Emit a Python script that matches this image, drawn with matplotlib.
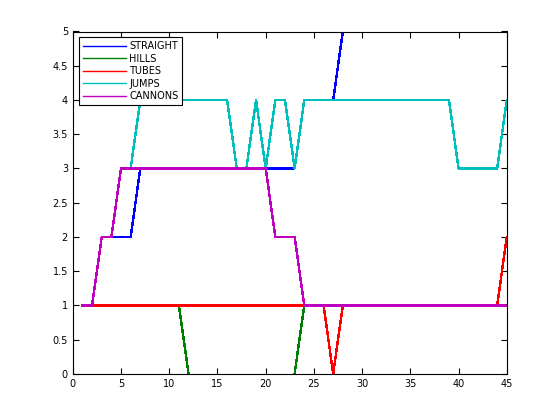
import matplotlib
matplotlib.use("Agg")
import matplotlib.pyplot as plt
import numpy as np

x = list(range(1, 46))
straight = [1,1,2,2,2,2] + [3]*17 + [4]*4 + [5] + [6]*17
hills = [1]*11 + [0] + [-1]*10 + [0] + [1]*22
tubes = [1]*26 + [0] + [1]*17 + [2]
jumps = [1,1,2,2,3,3] + [4]*10 + [3,3,4,3,4,4,3] + [4]*16 + [3]*5 + [4]
cannons = [1,1,2,2] + [3]*16 + [2,2,2] + [1]*22
names = ["STRAIGHT", "HILLS", "TUBES", "JUMPS", "CANNONS"]
colors = ["#0000ff", "#008000", "#ff0000", "#00bfbf", "#bf00bf"]

fig = plt.figure(figsize=(5.6, 4.2), dpi=100)
ax = fig.add_axes([0.13, 0.11, 0.775, 0.815])
for ys, n, c in zip([straight, hills, tubes, jumps, cannons], names, colors):
    ax.plot(x, ys, color=c, lw=1, label=n, antialiased=False)
ax.set_xlim(0, 45)
ax.set_ylim(0, 5)
ax.set_xticks(range(0, 46, 5))
ax.set_yticks(np.arange(0, 5.01, 0.5))
ax.set_yticklabels(["0", "0.5", "1", "1.5", "2", "2.5", "3", "3.5", "4", "4.5", "5"])
ax.tick_params(direction="in", labelsize=7, top=True, right=True, length=4)
leg = ax.legend(loc="upper left", fontsize=7, fancybox=False, framealpha=1,
                edgecolor="black", handlelength=4.5, borderaxespad=0.6,
                labelspacing=0.25, handletextpad=0.3)
leg.get_frame().set_linewidth(0.8)
fig.savefig("out.png", dpi=100)
